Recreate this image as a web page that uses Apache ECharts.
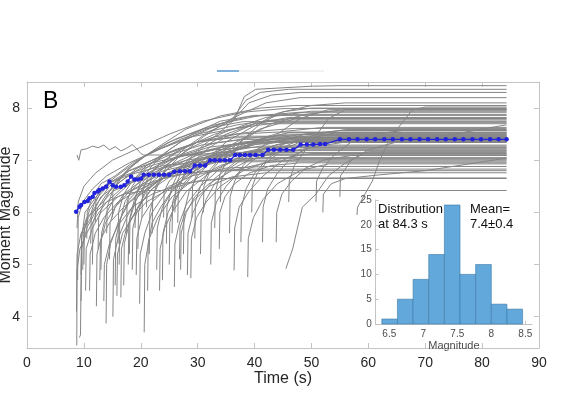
<!DOCTYPE html>
<html><head><meta charset="utf-8">
<script src="https://cdn.jsdelivr.net/npm/echarts@6/dist/echarts.min.js"></script>
<style>html,body{margin:0;padding:0;background:#fff}#c{width:562px;height:396px}</style>
</head><body><div id="c"></div>
<script>
// ---------------- data ----------------
const finalTime = 84.3;
const xTicks = [0, 10, 20, 30, 40, 50, 60, 70, 80, 90];
const yTicks = [4, 5, 6, 7, 8];
const histTicks = [6.5, 7, 7.5, 8, 8.5];
const histYTicks = [0, 5, 10, 15, 20, 25];

// each curve: flat list t,m,t,m,... (held flat until finalTime)
const curvesA = [
  [8.75,3.45, 8.8,4.9, 9.3,5.3, 10.5,5.6, 12,5.9, 14,6.2, 17,6.5, 21,6.8, 26,7.05, 33,7.2, 40,7.25],
  [9.2,3.6, 9.4,3.65, 9.6,5.6, 10.5,5.9, 12.5,6.1, 15,6.4, 19,6.6, 24,6.85, 30,7.0, 38,7.15, 45,7.19],
  [8.7,4.1, 8.8,5.2, 9.5,5.6, 11,5.85, 13,6.3, 16,6.55, 20,6.9, 26,7.2, 33,7.45, 40,7.55, 47,7.61],
  [8.9,4.7, 9.0,5.9, 9.8,6.2, 11.5,6.45, 14,6.7, 18,6.95, 23,7.2, 29,7.45, 36,7.6, 44,7.72],
  [9.5,4.8, 9.6,5.5, 10.2,6.0, 11.5,6.2, 13.5,6.5, 17,6.7, 22,6.9, 28,7.1, 36,7.3, 43,7.36],
  [8.8,5.7, 9.0,6.2, 10,6.5, 12,6.75, 15,7.0, 19,7.2, 25,7.5, 31,7.75, 38,7.92, 45,7.99],
  [10.0,5.0, 10.1,5.7, 11,6.05, 12.5,6.3, 15,6.6, 19,6.75, 24,6.9, 31,6.97],
  [10.3,4.5, 10.4,5.3, 11.5,5.7, 13,6.0, 16,6.3, 20,6.5, 25,6.7, 32,6.8, 40,6.83],
  [9.8,4.9, 9.9,5.6, 10.8,5.9, 12.5,6.2, 14.5,6.5, 18,6.8, 23,7.05, 30,7.35, 37,7.5, 44,7.54],
  [8.8,7.1, 9.1,7.0, 9.5,7.2, 10.5,7.22, 11.5,7.27, 12.5,7.24, 13.5,7.29, 14.5,7.2, 15.5,7.26, 16.5,7.18, 17.5,7.23, 18.5,7.3, 19.3,7.22, 20,7.13, 20.5,7.1],
  [10.5,5.5, 10.6,6.0, 11.5,6.3, 13,6.55, 15.5,6.7, 18.5,6.95, 24,7.25, 30,7.5, 37,7.68, 43,7.77],
  [11,4.5, 11.1,5.2, 12,5.6, 13.5,5.9, 16,6.2, 20,6.45, 26,6.75, 33,6.95, 41,7.05],
  [9.5,4.3, 9.6,5.3, 10.5,5.7, 12,6.0, 14,6.2, 17,6.35, 21,6.42],
  [11.5,5.0, 11.6,5.8, 12.5,6.1, 14,6.35, 16.5,6.6, 20,6.85, 25,7.1, 31,7.3, 38,7.4],
  [11.2,5.4, 11.3,6.0, 12.2,6.3, 14,6.55, 17,6.8, 21,7.1, 27,7.4, 34,7.7, 41,7.86, 48,7.92]
];
const curvesB = [
  [12.2,4.2, 12.3,5.2, 13,5.5, 14.5,5.8, 17,6.1, 21,6.45, 26,6.8, 33,7.1, 40,7.3, 48,7.38],
  [13.9,3.87, 14.0,5.0, 14.7,5.4, 16,5.8, 18,6.2, 21,6.5, 25,6.85, 31,7.15, 38,7.35, 46,7.43],
  [15.1,4.0, 15.2,5.1, 16,5.5, 17.5,5.9, 19.5,6.3, 23,6.6, 28,6.9, 35,7.2, 43,7.4, 50,7.47],
  [16.5,4.37, 16.6,5.3, 17.5,5.7, 19,6.0, 21.5,6.4, 25,6.75, 30,7.05, 37,7.3, 45,7.5],
  [12.5,5.3, 12.6,5.9, 13.5,6.2, 15,6.5, 17.5,6.8, 21,7.1, 26,7.4, 32,7.65, 39,7.84, 46,7.88],
  [13,4.9, 13.1,5.6, 14,6.0, 15.5,6.3, 18,6.55, 22,6.8, 28,7.0, 35,7.12],
  [14.5,5.1, 14.6,5.8, 15.5,6.1, 17,6.35, 20,6.6, 24,6.8, 30,6.95, 37,7.03],
  [15.5,4.6, 15.6,5.5, 16.5,5.9, 18,6.25, 20.5,6.55, 24,6.85, 29,7.1, 36,7.3, 44,7.42],
  [17,4.6, 17.1,5.4, 18,5.8, 19.5,6.1, 22,6.45, 26,6.75, 32,7.0, 40,7.2, 47,7.29],
  [18,5.2, 18.1,5.9, 19,6.3, 20.5,6.6, 23,6.9, 27,7.2, 33,7.5, 40,7.7, 46,7.8],
  [19.8,4.25, 19.9,5.2, 20.7,5.6, 22,6.0, 24.5,6.4, 28,6.75, 33,7.05, 40,7.3, 48,7.44],
  [14,5.6, 14.1,6.1, 15,6.4, 16.5,6.65, 19,6.95, 23,7.25, 28,7.6, 34,7.85, 41,8.0, 47,8.05],
  [16,5.4, 16.1,6.0, 17,6.35, 18.5,6.6, 21,6.9, 25,7.15, 30,7.35, 37,7.46],
  [17.5,5.6, 17.6,6.2, 18.5,6.5, 20,6.75, 23,7.05, 27,7.35, 32,7.6, 36,7.78, 38.5,8.15, 41,8.3, 46,8.36],
  [18.5,4.9, 18.6,5.7, 19.5,6.1, 21,6.4, 24,6.7, 28,6.95, 34,7.15, 41,7.27],
  [19,5.7, 19.1,6.3, 20,6.6, 22,6.9, 25,7.2, 29,7.5, 34,7.75, 40,7.86],
  [12,5.8, 12.1,6.2, 13,6.4, 15,6.6, 18,6.8, 22,6.95, 28,7.1, 35,7.15],
  [15,5.9, 15.1,6.4, 16,6.6, 18,6.85, 21,7.1, 25,7.35, 31,7.6, 38,7.74],
  [13.5,4.3, 13.6,5.0, 14.5,5.4, 16,5.75, 18.5,6.1, 22,6.35, 27,6.55, 34,6.65],
  [17.8,5.0, 17.9,5.8, 19,6.2, 20.5,6.5, 23,6.8, 27,7.1, 33,7.33, 41,7.45, 48,7.49],
  [19.5,5.3, 19.6,6.0, 20.5,6.35, 22,6.65, 25,6.95, 29,7.25, 35,7.55, 42,7.82, 50,7.94],
  [16.2,5.0, 16.3,5.8, 17.2,6.2, 19,6.5, 22,6.8, 26,7.05, 32,7.25, 39,7.34],
  [15.8,4.4, 15.9,5.2, 16.8,5.6, 18.5,5.9, 21,6.2, 25,6.45, 30,6.6, 36,6.66],
  [19.2,4.8, 19.3,5.5, 20.2,5.9, 22,6.2, 25,6.5, 29,6.7, 35,6.85, 42,6.88],
  [12.8,4.7, 12.9,5.4, 13.8,5.8, 15.5,6.1, 18,6.4, 22,6.65, 27,6.85, 33,6.97, 40,7.0]
];
const curvesC = [
  [20.6,3.7, 20.7,5.0, 21.5,5.5, 23,5.9, 25.5,6.3, 29,6.6, 34,6.9, 41,7.1, 49,7.22],
  [21.2,4.5, 21.3,5.4, 22,5.8, 23.5,6.1, 26,6.5, 30,6.85, 35,7.15, 42,7.4, 50,7.52],
  [23.3,4.5, 23.4,5.3, 24.2,5.7, 25.5,6.0, 28,6.4, 32,6.75, 37,7.05, 44,7.3, 52,7.41],
  [23.8,4.7, 23.9,5.6, 24.8,6.0, 26.5,6.35, 29,6.7, 33,7.0, 38,7.3, 45,7.55, 52,7.63],
  [25.9,4.57, 26,5.4, 26.8,5.8, 28,6.15, 30.5,6.5, 34,6.85, 39,7.15, 46,7.35, 53,7.44],
  [28.2,4.8, 28.3,5.6, 29.2,6.0, 30.5,6.3, 33,6.65, 37,7.0, 42,7.3, 49,7.5, 55,7.57],
  [28.8,4.74, 28.9,5.5, 29.8,5.9, 31.5,6.2, 34,6.5, 38,6.8, 43,7.0, 50,7.13],
  [21.5,5.2, 21.6,6.0, 22.5,6.4, 24,6.75, 27,7.1, 31,7.45, 36,7.8, 42,8.1, 48,8.2],
  [22,5.6, 22.1,6.3, 23,6.6, 25,6.95, 28,7.25, 32,7.55, 36,7.75, 39,8.1, 43,8.25, 48,8.3],
  [24.5,5.4, 24.6,6.1, 25.5,6.5, 27,6.85, 30,7.2, 33.5,7.5, 36.4,7.77, 38.2,8.22, 40.2,8.36, 50.2,8.42, 55,8.43],
  [26.5,5.8, 26.6,6.4, 27.5,6.7, 29,6.95, 31.5,7.2, 35,7.45, 40,7.7, 46,7.82],
  [27.5,5.2, 27.6,6.0, 28.5,6.4, 30,6.7, 32.5,7.0, 36,7.3, 41,7.6, 47,7.79],
  [20.2,5.9, 20.3,6.4, 21.2,6.65, 23,6.9, 26,7.15, 30,7.35, 36,7.43],
  [25,5.0, 25.1,5.8, 26,6.2, 27.5,6.55, 30,6.85, 34,7.1, 40,7.32, 47,7.4],
  [22.8,4.9, 22.9,5.7, 23.8,6.1, 25.5,6.4, 28,6.7, 32,6.95, 38,7.15, 45,7.24],
  [29.5,5.5, 29.6,6.2, 30.5,6.5, 32,6.8, 34.5,7.1, 38,7.4, 43,7.7, 49,7.88, 55,7.96],
  [26,6.0, 26.1,6.5, 27,6.75, 28.5,7.0, 31,7.25, 35,7.5, 40,7.7],
  [24,5.9, 24.1,6.4, 25,6.6, 27,6.8, 30,7.0, 34,7.1],
  [27,4.9, 27.1,5.6, 28,6.0, 29.5,6.3, 32,6.55, 36,6.8, 42,6.95, 48,7.02],
  [21,6.1, 21.1,6.4, 22,6.55, 24,6.65, 27,6.72, 31,6.78, 36,6.8],
  [29,5.9, 29.1,6.5, 30,6.8, 32,7.05, 35,7.35, 39,7.6, 44,7.9, 50,8.05, 56,8.1],
  [25.5,5.6, 25.6,6.2, 26.5,6.5, 28,6.75, 31,7.0, 35,7.25, 41,7.37],
  [26.8,5.1, 26.9,5.7, 27.8,6.0, 29.5,6.25, 32,6.5, 36,6.68, 42,6.76]
];
const curvesD = [
  [32.3,5.0, 32.4,5.8, 33.3,6.2, 35,6.5, 37.5,6.8, 41,7.1, 46,7.35, 52,7.48],
  [35.6,5.6, 35.7,6.3, 36.5,6.6, 38,6.9, 40.5,7.2, 44,7.5, 48,7.8, 53,7.97],
  [36.4,4.89, 36.5,5.7, 37.3,6.1, 39,6.4, 41.5,6.7, 45,7.0, 50,7.25, 56,7.35],
  [37.6,5.43, 37.7,6.1, 38.5,6.45, 40,6.75, 42.5,7.05, 46,7.3, 51,7.5, 56,7.59],
  [38.8,4.76, 38.9,5.5, 39.8,5.9, 41.5,6.25, 44,6.55, 48,6.8, 53,6.93],
  [41.4,5.43, 41.5,6.1, 42.3,6.45, 44,6.75, 46.5,7.05, 50,7.3, 55,7.45],
  [43.8,5.43, 43.9,6.0, 44.8,6.35, 46.5,6.6, 49,6.85, 52,7.0, 57,7.09],
  [45.5,4.92, 46.7,5.3, 48.4,6.1, 50.8,6.35, 53,6.7, 56,6.95, 60,7.17],
  [33,5.7, 33.1,6.4, 34,6.75, 35.5,7.05, 38,7.4, 41,7.7, 45,7.93, 50,8.0],
  [31,6.0, 31.1,6.5, 32,6.75, 34,7.0, 37,7.2, 41,7.4, 46,7.53],
  [34,6.2, 34.1,6.6, 35,6.8, 37,6.95, 40,7.15, 44,7.3, 49,7.39],
  [39.5,6.0, 39.6,6.5, 40.5,6.75, 42,6.95, 45,7.2, 49,7.4, 54,7.52],
  [30.5,5.2, 30.6,5.9, 31.5,6.25, 33,6.55, 35.5,6.8, 39,7.0, 44,7.15, 50,7.2],
  [33.8,5.3, 33.9,6.0, 34.8,6.3, 36.5,6.55, 39,6.75, 43,6.9, 48,6.95],
  [46,6.2, 46.1,6.6, 47,6.9, 49,7.2, 51,7.5, 53,7.8, 56,7.97],
  [50.8,6.2, 50.9,6.6, 52,6.85, 54,7.1, 57,7.35, 61,7.5, 66,7.57],
  [58,5.95, 58.1,6.1, 60.7,6.6, 62,7.0, 64,7.45, 67.7,7.96, 70,8.02],
  [52,6.0, 52.1,6.35, 53.5,6.55, 56,6.65, 62,6.72, 70,6.8, 84.3,7.04],
  [55,6.3, 55.1,6.7, 57,7.0, 60,7.2, 65,7.35, 75,7.5, 84.3,7.68]
];

const blueTime = [8.64, 9.22, 9.52, 10.1, 10.68, 10.98, 11.56, 11.85, 12.44, 12.73, 13.3, 13.9, 14.5, 15.07, 15.66, 16.5, 17.1, 17.7, 18.3, 18.9, 19.5, 20.05, 20.5, 21.4, 22.3, 23.2, 24.1, 25.0, 25.9, 26.9, 27.8, 28.65, 29.5, 30.4, 31.3, 32.2, 33.0, 33.9, 34.8, 35.7, 36.6, 37.4, 38.3, 39.2, 40.2, 41.4, 42.4, 43.4, 44.5, 45.6, 46.8, 48.1, 49.2, 50.3, 51.5, 52.4, 55.0, 56.6, 58.1, 59.7, 61.2, 62.8, 64.3, 65.9, 67.4, 69.0, 70.5, 72.1, 73.6, 75.2, 76.7, 78.3, 79.8, 81.4, 82.9, 84.3];
const blueMag = [6.01, 6.11, 6.14, 6.20, 6.22, 6.27, 6.30, 6.37, 6.40, 6.43, 6.46, 6.49, 6.59, 6.52, 6.49, 6.49, 6.52, 6.59, 6.69, 6.63, 6.63, 6.65, 6.72, 6.72, 6.72, 6.72, 6.72, 6.72, 6.78, 6.79, 6.79, 6.79, 6.90, 6.90, 6.90, 7.00, 7.00, 7.00, 7.00, 7.00, 7.10, 7.10, 7.10, 7.10, 7.10, 7.10, 7.20, 7.20, 7.20, 7.20, 7.20, 7.30, 7.30, 7.30, 7.31, 7.31, 7.40, 7.40, 7.40, 7.40, 7.40, 7.40, 7.40, 7.40, 7.40, 7.40, 7.40, 7.40, 7.40, 7.40, 7.40, 7.40, 7.40, 7.40, 7.40, 7.40];

const binEdges = [6.39, 6.62, 6.85, 7.08, 7.31, 7.54, 7.77, 8.0, 8.23, 8.46];
const binCounts = [1, 5, 9, 14, 24, 10, 12, 4, 3];

// ---------------- chart ----------------
const FONT = '"Liberation Sans", Arial, Helvetica, sans-serif';
const AX = '#c4c4c4';
const TXT = '#262626';

function toPairs(flat) {
  const out = [];
  for (let i = 0; i < flat.length; i += 2) out.push([flat[i], flat[i + 1]]);
  const last = out[out.length - 1];
  if (last[0] < finalTime) out.push([finalTime, last[1]]);
  return out;
}

const series = [];
[].concat(curvesA, curvesB, curvesC, curvesD).forEach(c => {
  series.push({
    type: 'line', xAxisIndex: 0, yAxisIndex: 0, data: toPairs(c),
    showSymbol: false, symbol: 'none', silent: true, animation: false, z: 2,
    lineStyle: { color: '#858585', width: 1 }
  });
});
series.push({
  type: 'line', xAxisIndex: 0, yAxisIndex: 0,
  data: blueTime.map((t, i) => [t, blueMag[i]]),
  symbol: 'circle', symbolSize: 4.5, showSymbol: true, silent: true, animation: false, z: 4,
  itemStyle: { color: '#2323dc' }, lineStyle: { color: '#2323dc', width: 1.4 }
});
series.push({
  type: 'custom', xAxisIndex: 2, yAxisIndex: 2, z: 8, silent: true, animation: false,
  data: binCounts.map((c, i) => [binEdges[i], binEdges[i + 1], c]),
  encode: { x: [0, 1], y: 2 },
  renderItem: function (params, api) {
    const p0 = api.coord([api.value(0), api.value(2)]);
    const p1 = api.coord([api.value(1), 0]);
    return {
      type: 'rect',
      shape: { x: p0[0], y: p0[1], width: p1[0] - p0[0], height: p1[1] - p0[1] },
      style: { fill: '#62a8da', stroke: '#3b78a8', lineWidth: 0.6 }
    };
  }
});

function mainX(pos, showLabel) {
  return {
    gridIndex: 0, type: 'value', min: 0, max: 90, interval: 10, position: pos,
    axisLine: { show: true, onZero: false, lineStyle: { color: AX, width: 1 } },
    axisTick: { show: true, inside: true, length: 5, lineStyle: { color: AX } },
    axisLabel: { show: showLabel, fontSize: 14, color: TXT, margin: 8, fontFamily: FONT },
    splitLine: { show: false }
  };
}
function mainY(pos, showLabel) {
  return {
    gridIndex: 0, type: 'value', min: 3.4, max: 8.5, position: pos,
    axisLine: { show: true, onZero: false, lineStyle: { color: AX, width: 1 } },
    axisTick: { show: true, inside: true, length: 5, customValues: yTicks, lineStyle: { color: AX } },
    axisLabel: { show: showLabel, customValues: yTicks, fontSize: 14, color: TXT, margin: 7, fontFamily: FONT },
    splitLine: { show: false }
  };
}

const xb = mainX('bottom', true);
xb.name = 'Time (s)'; xb.nameLocation = 'middle'; xb.nameGap = 23; xb.nameMoveOverlap = false;
xb.nameTextStyle = { fontSize: 16, color: TXT, fontFamily: FONT };
const yl = mainY('left', true);
yl.name = 'Moment Magnitude'; yl.nameLocation = 'middle'; yl.nameGap = 13; yl.nameMoveOverlap = false;
yl.nameTextStyle = { fontSize: 16, color: TXT, fontFamily: FONT };

const option = {
  backgroundColor: '#ffffff',
  animation: false,
  grid: [
    { left: 27, right: 23, top: 82, bottom: 48, show: false, containLabel: false, outerBoundsMode: 'none' },
    { left: 375.7, top: 200, width: 156.4, height: 124, show: true, backgroundColor: '#ffffff', borderWidth: 0, z: 5, containLabel: false, outerBoundsMode: 'none' }
  ],
  xAxis: [
    xb,
    mainX('top', false),
    {
      gridIndex: 1, type: 'value', min: 6.3, max: 8.6, position: 'bottom', z: 6,
      axisLine: { show: true, onZero: false, lineStyle: { color: AX } },
      axisTick: { show: true, inside: true, length: 3, customValues: histTicks, lineStyle: { color: AX } },
      axisLabel: { customValues: histTicks, fontSize: 10, color: '#4d4d4d', margin: 5, fontFamily: FONT },
      splitLine: { show: false },
      name: 'Magnitude', nameLocation: 'middle', nameGap: 16, nameMoveOverlap: false,
      nameTextStyle: { fontSize: 11, color: '#4d4d4d', fontFamily: FONT }
    }
  ],
  yAxis: [
    yl,
    mainY('right', false),
    {
      gridIndex: 1, type: 'value', min: 0, max: 25, interval: 5, position: 'left', z: 6,
      axisLine: { show: true, onZero: false, lineStyle: { color: AX } },
      axisTick: { show: true, inside: true, length: 3, lineStyle: { color: AX } },
      axisLabel: { fontSize: 10, color: '#4d4d4d', margin: 4, fontFamily: FONT },
      splitLine: { show: false }
    }
  ],
  graphic: [
    { type: 'line', z: 100, shape: { x1: 217, y1: 71, x2: 324, y2: 71 }, style: { stroke: '#e6e6e6', lineWidth: 1 } },
    { type: 'line', z: 101, shape: { x1: 217, y1: 71, x2: 239, y2: 71 }, style: { stroke: '#5b9bd5', lineWidth: 1.5 } },
    { type: 'text', z: 100, left: 43, top: 90, style: { text: 'B', fontSize: 23, fill: '#000', fontFamily: FONT } },
    { type: 'text', z: 100, left: 378, top: 202, style: { text: 'Distribution\nat 84.3 s', fontSize: 13, lineHeight: 15, fill: '#111', fontFamily: FONT } },
    { type: 'text', z: 100, left: 470, top: 202, style: { text: 'Mean=\n7.4±0.4', fontSize: 13, lineHeight: 15, fill: '#111', fontFamily: FONT } }
  ],
  series: series
};

const chart = echarts.init(document.getElementById('c'), null, { renderer: 'canvas' });
chart.setOption(option);
</script></body></html>
